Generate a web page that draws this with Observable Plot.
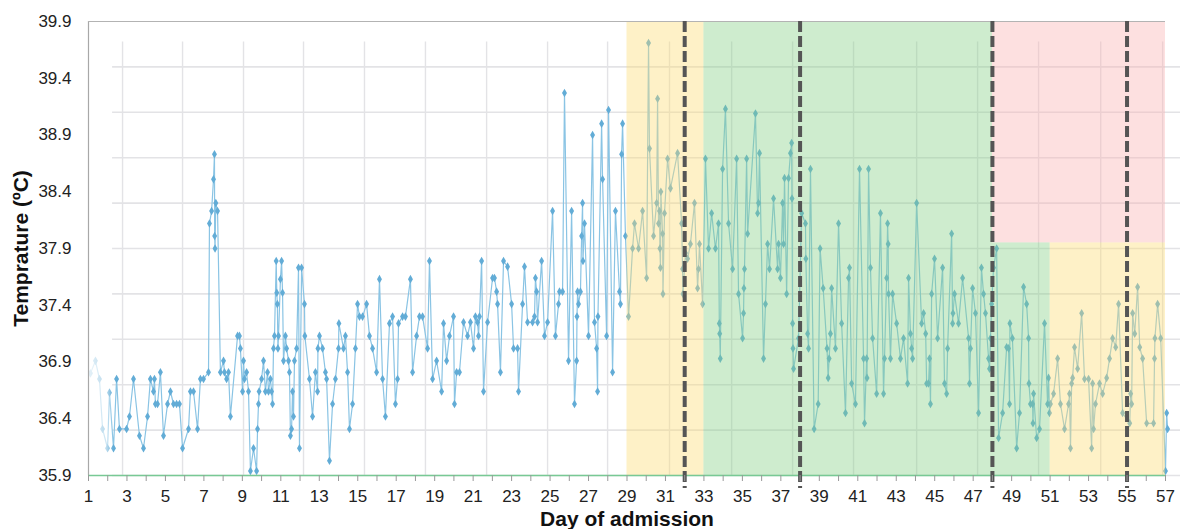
<!DOCTYPE html>
<html><head><meta charset="utf-8">
<script src="https://cdn.jsdelivr.net/npm/d3@7"></script>
<script src="https://cdn.jsdelivr.net/npm/@observablehq/plot@0.6"></script>
<style>body{margin:0;background:#fff}#chart{width:1180px;height:529px}</style>
</head><body><div id="chart"></div>
<script>
// ---- data ----
const days = [
1.10,1.36,1.57,1.73,1.99,2.09,2.30,2.46,2.61,2.98,3.13,3.34,3.65,3.86,4.07,4.22,4.38,4.43,4.48,4.59,4.74,4.90,5.11,5.26,5.42,5.58,5.73,5.89,6.20,6.30,6.46,6.67,6.82,6.98,7.24,7.29,7.40,7.50,7.55,7.56,7.58,7.62,7.71,7.86,8.02,8.07,8.18,8.28,8.38,8.75,8.85,8.90,9.01,9.06,9.11,9.22,9.32,9.42,9.58,9.74,9.79,9.84,9.87,10.00,10.10,10.20,10.31,
10.36,10.46,10.52,10.57,10.62,10.67,10.76,10.79,10.82,10.85,10.88,10.98,11.04,11.09,11.14,11.24,11.30,11.40,11.45,11.50,11.56,11.61,11.66,11.71,11.82,11.92,11.97,12.08,12.23,12.25,12.49,12.65,12.80,12.91,12.93,13.01,13.17,13.32,13.38,13.53,13.69,13.84,14.00,14.02,14.26,14.36,14.47,14.57,14.73,14.88,14.99,15.09,15.25,15.46,15.61,15.77,15.98,16.13,16.29,16.44,16.65,16.81,16.96,17.07,17.12,17.33,17.48,17.74,17.85,18.06,18.21,18.37,18.63,18.73,18.89,19.10,19.36,19.46,19.62,19.77,
19.98,20.03,20.14,20.29,20.50,20.71,20.86,21.02,21.12,21.23,21.28,21.33,21.44,21.54,21.75,22.01,22.11,22.22,22.27,22.42,22.58,22.79,23.00,23.10,23.31,23.36,23.57,23.67,23.83,24.09,24.19,24.24,24.30,24.35,24.56,24.71,24.87,25.13,25.28,25.44,25.49,25.65,25.75,25.96,26.12,26.27,26.38,26.40,26.43,26.48,26.58,26.64,26.69,26.71,26.79,27.00,27.21,27.31,27.42,27.47,27.49,27.68,27.73,27.94,28.04,28.25,28.40,28.61,28.66,28.72,28.77,28.92,29.08,
29.29,29.39,29.60,29.81,30.02,30.12,30.17,30.38,30.54,30.59,30.64,30.69,30.71,30.74,30.76,30.85,30.87,30.95,31.11,31.26,31.63,31.84,31.89,31.91,32.04,32.15,32.30,32.51,32.67,32.72,32.77,32.93,33.08,33.24,33.40,33.60,33.76,33.80,33.82,33.85,33.97,34.12,34.28,34.49,34.70,34.80,35.01,35.06,35.08,35.11,35.22,35.27,35.68,35.79,35.84,35.89,36.10,36.20,36.31,36.41,36.62,36.83,36.88,36.98,37.09,37.14,37.19,37.30,37.40,37.50,37.56,37.58,37.61,37.63,37.66,37.92,38.08,38.28,38.30,38.39,38.44,38.54,
38.73,38.94,39.04,39.20,39.40,39.46,39.51,39.58,39.64,39.84,40.00,40.16,40.36,40.52,40.57,40.68,40.88,41.09,41.30,41.35,41.46,41.48,41.56,41.66,41.77,41.98,42.18,42.34,42.39,42.50,42.55,42.58,42.60,42.70,42.81,43.02,43.22,43.38,43.59,43.64,43.74,43.80,43.85,44.06,44.32,44.42,44.53,44.58,44.68,44.73,44.78,44.84,44.99,45.15,45.41,45.51,45.62,45.67,45.88,45.93,45.95,46.03,46.24,46.45,46.76,46.81,46.86,46.97,47.12,47.28,47.43,47.54,47.64,47.80,47.85,47.90,
47.96,48.06,48.22,48.32,48.53,48.74,48.84,48.89,48.91,49.04,49.26,49.41,49.62,49.78,49.88,49.90,49.98,50.09,50.11,50.14,50.30,50.45,50.71,50.87,50.92,50.97,51.02,51.18,51.39,51.54,51.75,51.96,52.01,52.06,52.12,52.17,52.27,52.43,52.64,52.79,53.00,53.16,53.21,53.26,53.36,53.57,53.73,53.94,54.09,54.25,54.41,54.56,54.77,55.14,55.19,55.24,55.29,55.40,55.55,55.66,55.81,56.02,56.38,56.43,56.45,56.59,56.75,57.00,57.06,57.11
];
const temps = [
36.80,36.91,36.75,36.31,36.14,36.63,36.14,36.75,36.31,36.31,36.42,36.75,36.25,36.14,36.42,36.75,36.64,36.75,36.53,36.53,36.81,36.25,36.53,36.64,36.53,36.53,36.53,36.14,36.31,36.64,36.64,36.31,36.75,36.75,36.81,38.12,38.23,38.51,38.73,38.01,37.90,38.30,38.23,36.81,36.91,36.81,36.75,36.81,36.42,37.13,37.13,37.02,36.64,36.91,36.75,36.81,36.64,35.94,36.14,35.94,36.31,36.53,36.64,36.75,36.91,36.64,36.81,
36.64,36.75,36.64,36.53,37.02,37.13,37.79,37.51,37.41,37.02,37.13,37.63,37.79,37.51,36.91,37.13,37.02,36.91,36.81,36.25,36.31,36.64,36.42,36.91,37.02,37.73,36.14,37.73,37.41,37.13,36.75,36.42,36.81,36.64,37.02,37.13,37.02,36.81,36.75,36.03,36.53,36.75,37.02,37.24,37.02,37.13,36.81,36.31,36.53,37.02,37.41,37.30,37.30,37.41,37.13,37.02,36.81,37.63,36.75,36.42,37.24,37.30,36.53,36.75,37.24,37.30,37.30,37.63,36.81,37.13,37.30,37.30,37.02,37.79,36.75,36.91,36.64,37.24,36.91,37.13,
37.30,36.53,36.81,36.81,37.25,37.13,37.25,37.02,37.30,37.25,37.13,37.30,37.79,36.64,37.25,37.64,37.64,37.52,37.41,36.81,37.79,37.74,37.41,37.02,37.02,36.64,37.41,37.74,37.25,37.25,37.30,37.64,37.52,37.25,37.79,37.13,37.25,38.23,37.13,37.41,37.52,37.52,39.27,36.91,38.23,36.53,36.91,37.30,37.52,37.41,37.52,38.01,38.30,37.79,38.12,37.13,38.90,37.25,37.02,36.64,37.30,39.00,38.51,37.13,39.12,36.81,38.23,37.52,37.41,38.73,39.00,38.01,37.30,
37.90,38.12,37.90,38.23,37.64,39.71,38.78,38.01,38.30,39.22,38.12,38.23,37.90,37.73,38.40,38.03,37.50,38.21,38.69,38.43,38.74,38.12,37.72,37.50,37.86,37.81,37.94,38.30,37.55,37.72,37.94,37.41,38.69,37.90,38.21,37.90,38.12,37.24,37.15,36.93,38.60,39.13,38.12,37.72,38.69,37.50,37.11,37.33,37.55,37.72,38.69,38.03,39.09,38.21,38.30,38.74,36.93,37.41,37.94,37.72,38.34,37.72,37.94,37.64,38.30,37.94,38.52,37.50,38.52,38.74,38.83,38.34,37.24,37.02,36.84,37.11,38.21,38.12,37.81,37.15,37.02,38.60,
36.31,36.53,37.90,37.55,37.02,36.76,36.93,37.15,37.55,37.02,38.12,37.24,36.45,37.64,37.73,36.71,36.53,38.60,36.93,36.36,36.93,36.76,38.60,37.73,37.11,36.62,38.21,36.62,36.93,37.64,38.12,37.94,37.50,36.93,37.50,37.24,36.93,37.11,36.71,37.64,37.15,37.02,36.93,38.30,37.24,37.33,37.15,36.71,36.71,36.93,36.53,37.50,37.81,37.11,37.73,36.71,36.62,37.02,38.03,37.24,37.33,37.50,37.24,37.64,37.11,36.71,37.02,37.55,37.33,36.45,37.73,37.50,37.33,36.93,36.84,37.11,
37.41,37.73,37.90,36.23,36.45,37.03,37.02,36.53,37.24,37.11,36.14,36.45,37.56,37.41,37.11,36.71,36.53,36.53,36.36,36.62,36.23,36.31,37.24,36.53,36.76,36.45,36.53,36.62,36.93,36.53,36.31,36.53,36.62,36.14,36.71,36.76,37.03,36.84,37.33,36.75,36.75,36.14,36.71,36.31,36.53,36.71,36.62,36.76,36.93,37.11,37.03,37.41,36.45,36.36,36.62,36.53,37.33,37.15,37.56,37.03,36.93,36.36,36.36,36.93,37.11,37.41,37.11,35.94,36.45,36.31
];
const yTickLabels = [35.9, 36.4, 36.9, 37.4, 37.9, 38.4, 38.9, 39.4, 39.9];
const xTickMarks = [1,2,3,4,5,6,7,8,9,10,11,12,13,14,15,16,17,18,19,20,21,22,23,24,25,26,27,28,29,30,31,32,33,34,35,36,37,38,39,40,41,42,43,44,45,46,47,48,49,50,51,52,53,54,55,56,57];
const xTickLabels = [1,3,5,7,9,11,13,15,17,19,21,23,25,27,29,31,33,35,37,39,41,43,45,47,49,51,53,55,57];
// background grid of the original figure (offset from the ticks)
const gridDays = [2.77,5.89,9.06,12.18,15.35,18.52,21.70,24.87,27.99,31.21,34.44,37.61,40.78,44.06,47.23,50.40,53.63,56.85];
const gridTemps = [35.9,36.3,36.7,37.1,37.5,37.9,38.3,38.7,39.1,39.5];
// phases (shaded periods)
const phaseStart = [29, 33, 48, 48, 51];
const phaseEnd   = [33, 48, 57, 51, 57];
const phaseLow   = [35.9, 35.9, 37.95, 35.9, 35.9];
const phaseHigh  = [39.9, 39.9, 39.9, 37.95, 37.95];
const phaseType  = ["yellow", "green", "red", "green", "yellow"];
const eventDays  = [32, 38, 48, 55];

const data = days.map((d, i) => ({day: d, temp: temps[i]}));
const phases = phaseStart.map((s, i) => ({x1: s, x2: phaseEnd[i], y1: phaseLow[i], y2: phaseHigh[i], type: phaseType[i]}));
const phaseFill = {yellow: "#fcdc73", green: "#84d084", red: "#fab2b2"};

const plot = Plot.plot({
  width: 1180, height: 529,
  marginTop: 21, marginBottom: 54, marginLeft: 88, marginRight: 15,
  x: {domain: [1, 57]},
  y: {domain: [35.9, 39.9]},
  style: {fontFamily: "'Liberation Sans', Arial, sans-serif", fontSize: "17px", color: "#222", background: "#fff", overflow: "visible"},
  marks: [
    Plot.ruleY(gridTemps, {x1: 2.25, x2: 57.8, stroke: "#e3e3e6", strokeWidth: 1.6}),
    Plot.ruleX(gridDays, {y1: 35.9, y2: 39.72, stroke: "#e3e3e6", strokeWidth: 1.4}),
    Plot.line(data, {x: "day", y: "temp", stroke: "#8ac4e4", strokeWidth: 1.2}),
    Plot.dot(data, {x: "day", y: "temp", symbol: "diamond", r: 2.6, fill: "#62acd6"}),
    Plot.rect([0], {x1: 1, x2: 2.3, y1: 35.9, y2: 39.9, fill: "#fefefe"}),
    ...Object.keys(phaseFill).map(t => Plot.rect(phases.filter(p => p.type === t),
      {x1: "x1", x2: "x2", y1: "y1", y2: "y2", fill: phaseFill[t], fillOpacity: 0.4})),
    Plot.ruleX([1], {stroke: "#a8a8a8", strokeWidth: 1.2}),
    Plot.ruleY([39.9], {stroke: "#b3b3b3", strokeWidth: 1.2}),
    Plot.ruleY([35.9], {stroke: "#78c995", strokeWidth: 1.6}),
    Plot.ruleX(eventDays, {stroke: "#555", strokeWidth: 4, strokeDasharray: "11,4", insetBottom: -13}),
    Plot.axisY({ticks: yTickLabels, tickFormat: ".1f", tickSize: 0, tickPadding: 17, label: null, fill: "#222"}),
    Plot.axisX({ticks: xTickMarks, tickFormat: d => xTickLabels.includes(d) ? String(d) : "", tickSize: 6, tickPadding: 8, stroke: "#999", label: null, fill: "#222"}),
    Plot.text(["Day of admission"], {frameAnchor: "bottom", dy: 50, fontSize: 21, fontWeight: "bold", fill: "#111"}),
    Plot.text(["Temprature (ºC)"], {frameAnchor: "left", textAnchor: "middle", dx: -67, rotate: -90, fontSize: 21, fontWeight: "bold", fill: "#111"})
  ]
});

// left-edge fade, as in the reference
const ns = "http://www.w3.org/2000/svg";
const defs = document.createElementNS(ns, "defs");
const grad = document.createElementNS(ns, "linearGradient");
grad.setAttribute("id", "fadeL");
grad.setAttribute("x1", "0"); grad.setAttribute("x2", "1"); grad.setAttribute("y1", "0"); grad.setAttribute("y2", "0");
[[0, 0.85], [0.75, 0.55], [1, 0]].forEach(([o, a]) => {
  const s = document.createElementNS(ns, "stop");
  s.setAttribute("offset", o); s.setAttribute("stop-color", "#fff"); s.setAttribute("stop-opacity", a);
  grad.appendChild(s);
});
defs.appendChild(grad);
plot.insertBefore(defs, plot.firstChild);
plot.querySelectorAll('g[fill="#fefefe"]').forEach(g => {
  g.setAttribute("fill", "url(#fadeL)");
  g.querySelectorAll("rect").forEach(r => r.setAttribute("fill", "url(#fadeL)"));
});

document.getElementById("chart").appendChild(plot);
</script>
</body></html>
